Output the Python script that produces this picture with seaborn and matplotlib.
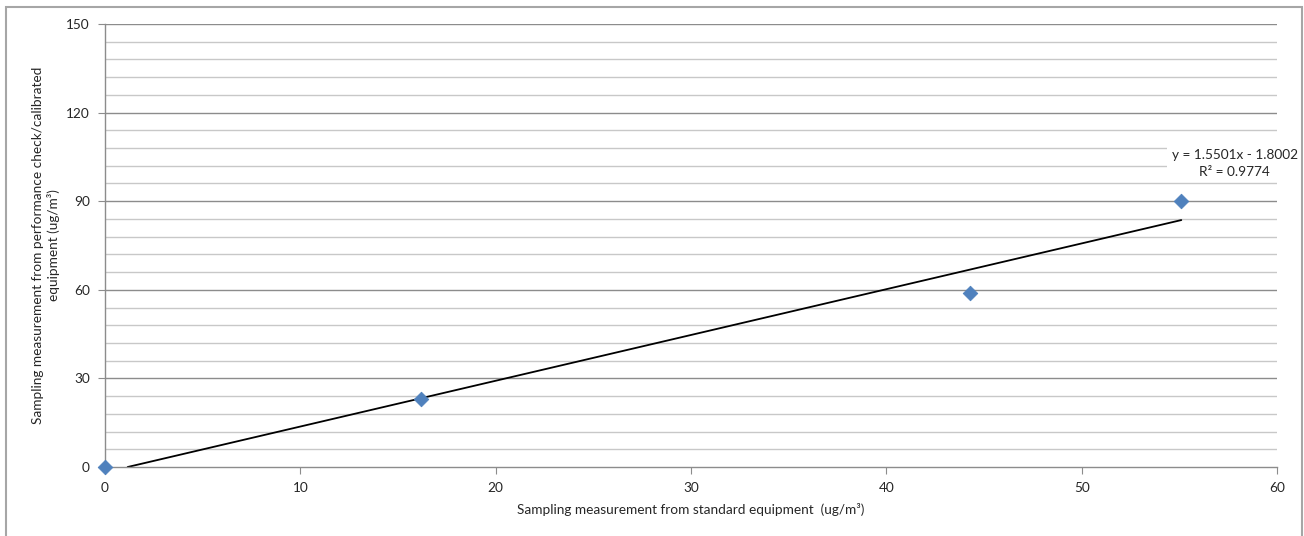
import numpy as np
import pandas as pd
import matplotlib.pyplot as plt
import seaborn as sns
from matplotlib.patches import Rectangle

# data
std_equipment = [0.0, 16.2, 44.3, 55.1]
check_equipment = [0.0, 23.0, 59.0, 90.0]
x_ticks = [0, 10, 20, 30, 40, 50, 60]
y_ticks = [0, 30, 60, 90, 120, 150]
slope = 1.5501
intercept = -1.8002
r2 = 0.9774

df = pd.DataFrame({'x': std_equipment, 'y': check_equipment})

sns.set_style('white')
plt.rcParams['font.family'] = ['Lato', 'DejaVu Sans']

fig = plt.figure(figsize=(13.04, 5.36), dpi=100)
ax = fig.add_axes([105/1304, 1-467/536, (1277-105)/1304, (467-24)/536])

# chart border
fig.patches.append(Rectangle((6/1304, -0.01), (1302-6)/1304, 1-7/536+0.01,
                             transform=fig.transFigure, fill=False,
                             edgecolor='#a6a6a6', linewidth=1.5))

# gridlines
for v in np.arange(6, 150, 6):
    if v % 30 != 0:
        ax.axhline(v, color='#c8c8c8', linewidth=1, zorder=0)
for v in y_ticks[1:]:
    ax.axhline(v, color='#8c8c8c', linewidth=1, zorder=0)

# trendline
x0 = -intercept / slope
tx = np.array([x0, max(std_equipment)])
trend = pd.DataFrame({'x': tx, 'y': slope * tx + intercept})
sns.lineplot(data=trend, x='x', y='y', ax=ax, color='black', linewidth=1.3, zorder=2)

sns.scatterplot(data=df, x='x', y='y', ax=ax, marker='D', s=55, color='#4f81bd',
                edgecolor='#4f81bd', zorder=3, clip_on=False)

fs = 9.8
ax.set_xlim(0, 60)
ax.set_ylim(0, 150)
ax.set_xticks(x_ticks)
ax.set_yticks(y_ticks)
ax.tick_params(axis='both', labelsize=fs, length=5, color='#8c8c8c', direction='out',
               left=True, bottom=True, pad=6)
for s in ['top', 'right']:
    ax.spines[s].set_visible(False)
for s in ['left', 'bottom']:
    ax.spines[s].set_color('#8c8c8c')
    ax.spines[s].set_linewidth(1)

ax.set_xlabel('Sampling measurement from standard equipment  (ug/m³)', fontsize=fs, labelpad=6)
ax.set_ylabel('Sampling measurement from performance check/calibrated\nequipment (ug/m³)',
              fontsize=fs, labelpad=4, linespacing=1.3)

ax.text(57.83, 107.6, f'y = {slope}x - {abs(intercept):.4f}\nR² = {r2}',
        ha='center', va='top', fontsize=fs, linespacing=1.5,
        bbox=dict(facecolor='white', edgecolor='none', pad=3), zorder=4)

fig.savefig('out.png', dpi=100)
